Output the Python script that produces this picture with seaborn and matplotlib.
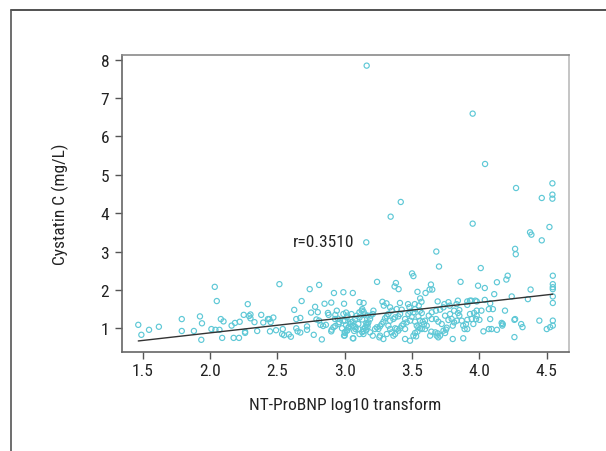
import matplotlib
matplotlib.use("Agg")
import matplotlib.pyplot as plt
from matplotlib import font_manager
from matplotlib.lines import Line2D
import seaborn as sns
import numpy as np
import pandas as pd

# ---------------- data ----------------
# low NT-ProBNP range
x_seg1 = [1.467, 1.49, 1.547, 1.62, 1.79, 1.79, 1.88, 1.925, 1.94, 1.935, 2.035, 2.05, 2.01, 2.04,
          2.07, 2.08, 2.10, 2.09, 2.16, 2.185, 2.22, 2.175, 2.215, 2.25, 2.28, 2.26, 2.26, 2.29]
y_seg1 = [1.09, 0.83, 0.96, 1.04, 1.24, 0.93, 0.93, 1.31, 1.13, 0.70, 2.08, 1.71, 0.98, 0.96,
          0.96, 1.24, 1.18, 0.75, 1.07, 1.14, 1.17, 0.75, 0.75, 1.35, 1.63, 0.91, 0.88, 1.32]

x_seg2 = [2.30, 2.30, 2.33, 2.35, 2.38, 2.395, 2.43, 2.44, 2.45, 2.47, 2.445, 2.49, 2.515, 2.535,
          2.55, 2.54, 2.585, 2.60, 2.625, 2.64, 2.67, 2.64, 2.65, 2.67, 2.68, 2.72, 2.72, 2.74,
          2.75, 2.77, 2.78, 2.80, 2.81, 2.79, 2.81, 2.83, 2.82, 2.84, 2.86, 2.85, 2.875, 2.88,
          2.90, 2.92, 2.93, 2.93, 2.90, 2.95, 2.96, 2.99, 2.995, 3.06, 3.01, 3.00, 3.00, 3.02,
          3.05, 2.99, 3.01, 3.03, 2.98, 3.02]
y_seg2 = [1.36, 1.26, 1.16, 0.93, 1.35, 1.15, 1.24, 1.24, 1.16, 1.28, 0.92, 0.95, 2.15, 0.85,
          0.82, 0.98, 0.84, 0.78, 1.48, 1.24, 1.27, 1.00, 0.92, 0.89, 1.71, 1.05, 0.96, 2.02,
          1.41, 0.83, 1.56, 1.42, 2.13, 1.23, 1.20, 0.71, 1.09, 1.06, 1.09, 1.64, 1.40, 1.35,
          1.67, 1.92, 1.06, 1.35, 0.92, 1.25, 1.16, 1.94, 1.64, 1.92, 1.41, 0.90, 0.81, 1.33,
          1.37, 1.20, 1.08, 1.02, 1.00, 0.95]

x_seg3 = [3.047, 3.06, 3.08, 3.08, 3.07, 3.11, 3.13, 3.14, 3.16, 3.16, 3.17, 3.17, 3.17, 3.13,
          3.14, 3.11, 3.13, 3.15, 3.11, 3.14]
y_seg3 = [1.16, 1.07, 1.03, 0.98, 0.93, 0.85, 0.90, 0.93, 0.95, 1.13, 1.12, 1.33, 1.04, 1.50,
          1.43, 1.28, 1.23, 1.36, 1.68, 1.66]

# dense band, NT-ProBNP 2.9 - 3.9
x_seg4 = [3.851, 3.841, 3.851, 3.832, 3.812, 3.794, 3.802, 3.770, 3.757, 3.752, 3.745, 3.802,
          3.733, 3.708, 3.695, 3.683, 3.634, 3.643, 3.673, 3.690, 3.609, 3.589, 3.596, 3.559,
          3.572, 3.547, 3.559, 3.579, 3.596, 3.522, 3.510, 3.485, 3.473, 3.497, 3.485, 3.522,
          3.535, 3.547, 3.559, 3.572, 3.540, 3.522, 3.510, 3.530, 3.448, 3.485, 3.436, 3.423,
          3.411, 3.398, 3.386, 3.374, 3.374, 3.361, 3.411, 3.398, 3.374, 3.361, 3.324, 3.312,
          3.299, 3.337, 3.287, 3.275, 3.262, 3.250, 3.238, 3.225, 3.262, 3.257, 3.287, 3.213,
          3.208, 3.193, 3.188, 3.176, 3.163, 3.151, 3.139, 3.126, 3.109, 3.089, 3.077, 3.059,
          3.040, 3.027, 3.015, 3.002, 2.995, 3.064, 2.990, 3.015, 3.002, 2.928, 2.916, 2.903]
y_seg4 = [1.476, 1.398, 1.329, 1.198, 1.155, 1.242, 1.068, 1.216, 1.016, 0.964, 0.877, 0.721,
          0.938, 0.808, 0.764, 0.808, 0.808, 0.912, 0.894, 0.868, 1.068, 1.112, 0.981, 1.459,
          1.398, 1.311, 1.198, 1.172, 1.198, 1.502, 1.416, 1.433, 1.372, 1.303, 1.198, 1.172,
          1.068, 1.025, 0.999, 0.981, 0.912, 0.877, 0.808, 0.790, 0.721, 0.677, 1.112, 1.068,
          0.999, 0.938, 0.981, 0.999, 0.851, 0.808, 1.372, 1.311, 1.285, 1.242, 1.372, 1.311,
          1.259, 1.198, 1.172, 1.112, 1.051, 0.981, 1.025, 0.981, 0.808, 0.764, 0.721, 1.459,
          1.372, 1.329, 1.242, 1.155, 1.085, 1.025, 0.981, 1.459, 1.416, 1.329, 1.242, 1.172,
          1.112, 1.025, 0.938, 0.877, 0.808, 0.738, 1.372, 1.285, 1.198, 1.242, 1.025, 0.964]

x_seg5 = [3.733, 3.708, 3.678, 3.646, 3.624, 3.646, 3.678, 3.695, 3.720, 3.745, 3.782, 3.812,
          3.869, 3.943, 3.955, 3.980, 3.930, 3.337, 3.349, 3.386, 3.423, 3.448, 3.460, 3.448,
          3.337, 3.324, 3.349, 3.312, 3.188, 3.208, 3.139, 3.101, 3.101, 2.941, 2.953]
y_seg5 = [1.546, 1.485, 1.459, 1.416, 1.329, 1.242, 1.242, 1.172, 1.112, 1.329, 1.372, 1.459,
          1.198, 1.242, 1.112, 1.329, 1.372, 1.546, 1.459, 1.502, 1.485, 1.242, 1.155, 0.981,
          0.981, 1.068, 0.894, 0.851, 0.894, 0.808, 0.851, 0.981, 1.112, 1.459, 1.112]

# upper scatter and high NT-ProBNP range
x_seg6 = [3.16, 4.265, 4.27, 3.68, 3.70, 4.01, 3.50, 3.51, 3.24, 4.21, 4.20, 4.545, 4.545, 4.545,
          4.545, 3.86, 4.13, 3.99, 4.04, 4.38, 3.38, 3.37, 3.40, 3.64, 3.65, 3.54, 3.60, 3.63,
          4.11, 4.24, 4.36, 4.545, 4.545, 3.28, 3.29, 3.31, 3.41, 3.47, 3.48, 3.56, 3.57, 3.52,
          3.55, 3.69, 3.77, 3.78, 3.74, 3.84, 3.83, 3.91, 3.93, 3.91, 3.94, 3.97, 3.98, 4.04,
          4.08, 4.10, 4.07, 4.19, 4.545, 4.545, 4.525, 4.50, 4.445, 4.265, 4.26, 4.31, 4.32,
          4.26, 4.13, 4.09, 4.07, 4.03, 4.17, 4.17, 4.08, 4.015, 3.98, 3.96, 4.0, 3.975, 3.91,
          3.90, 3.88, 3.89, 3.91, 3.88, 3.06, 4.165, 4.173]
y_seg6 = [3.24, 3.07, 2.93, 3.00, 2.61, 2.57, 2.43, 2.36, 2.21, 2.37, 2.27, 2.37, 2.15, 2.07,
          2.02, 2.21, 2.20, 2.11, 2.05, 2.01, 2.18, 2.09, 2.02, 2.14, 2.01, 1.95, 1.92, 2.01,
          1.89, 1.83, 1.76, 1.83, 1.66, 1.69, 1.59, 1.65, 1.66, 1.63, 1.55, 1.78, 1.69, 1.63,
          1.59, 1.70, 1.68, 1.59, 1.63, 1.72, 1.63, 1.70, 1.72, 1.61, 1.72, 1.72, 1.70, 1.74,
          1.65, 1.50, 1.50, 1.46, 1.20, 1.07, 1.03, 0.98, 1.20, 1.24, 1.22, 1.11, 1.03,
          0.77, 0.96, 0.98, 0.98, 0.92, 1.11, 1.07, 1.24, 1.46, 1.46, 1.40, 1.22, 1.24, 1.22,
          1.11, 1.07, 0.98, 0.98, 0.74, 0.74, 1.14, 1.11]

# outliers
x_seg7 = [3.163, 3.950, 4.042, 4.272, 4.542, 4.542, 4.542, 4.463, 3.341, 3.416, 3.950, 4.376,
          4.386, 4.520, 4.463]
y_seg7 = [7.845, 6.594, 5.282, 4.656, 4.778, 4.483, 4.378, 4.396, 3.909, 4.292, 3.727, 3.501,
          3.440, 3.640, 3.292]

ntprobnp_log10 = x_seg1 + x_seg2 + x_seg3 + x_seg4 + x_seg5 + x_seg6 + x_seg7
cystatin_c = y_seg1 + y_seg2 + y_seg3 + y_seg4 + y_seg5 + y_seg6 + y_seg7

fit_intercept = 0.089
fit_slope = 0.396
r_text = "r=0.3510"

x_ticks = [1.5, 2.0, 2.5, 3.0, 3.5, 4.0, 4.5]
y_ticks = [1, 2, 3, 4, 5, 6, 7, 8]
x_label = "NT-ProBNP log10 transform"
y_label = "Cystatin C (mg/L)"

# ---------------- style ----------------
sns.set_theme(style="white")
available = {f.name for f in font_manager.fontManager.ttflist}
family = "DejaVu Sans"
for cand in ["Liberation Sans Narrow", "DejaVu Sans Condensed", "Roboto Condensed",
             "Open Sans Condensed", "Liberation Sans"]:
    if cand in available:
        family = cand
        break
plt.rcParams["font.family"] = [family, "DejaVu Sans"]

txt = "#222222"
pt_color = "#5ec8d6"

df = pd.DataFrame({"x": ntprobnp_log10, "y": cystatin_c})

fig = plt.figure(figsize=(6.06, 4.52), dpi=100)
ax = fig.add_axes([121.7 / 606, (452 - 352.7) / 452, (568.7 - 121.7) / 606, (352.7 - 55.7) / 452])

sns.scatterplot(data=df, x="x", y="y", ax=ax, marker="o", s=14,
                facecolors="none", edgecolor=pt_color, linewidth=0.85, legend=False)

lx = np.array([df["x"].min(), df["x"].max()])
line_df = pd.DataFrame({"x": lx, "y": fit_intercept + fit_slope * lx})
sns.lineplot(data=line_df, x="x", y="y", ax=ax, color="#333333", linewidth=1.0)

ax.text(2.616, 3.25, r_text, ha="left", va="center", fontsize=12.5, color=txt)

ax.set_xlim(1.344, 4.663)
ax.set_ylim(0.39, 8.13)
ax.set_xticks(x_ticks)
ax.set_xticklabels([f"{t:.1f}" for t in x_ticks])
ax.set_yticks(y_ticks)
ax.set_yticklabels([str(t) for t in y_ticks])
ax.tick_params(axis="both", which="major", direction="out", length=5, width=1,
               color="#555555", labelsize=12.5, labelcolor=txt, bottom=True, left=True)
ax.tick_params(axis="x", pad=3)
ax.tick_params(axis="y", pad=4)

ax.set_xlabel(x_label, fontsize=12.5, color=txt)
ax.set_ylabel(y_label, fontsize=12.5, color=txt)
ax.xaxis.set_label_coords(0.5, -0.148)
ax.xaxis.label.set_va("top")
ax.yaxis.set_label_coords(-0.118, 0.5)

ax.spines["left"].set_color("#666666")
ax.spines["bottom"].set_color("#666666")
ax.spines["top"].set_color("#8a8a8a")
ax.spines["right"].set_color("#bbbbbb")
for s in ax.spines.values():
    s.set_linewidth(1.2)
    s.set_visible(True)
ax.grid(False)

# outer partial frame
fy = (452 - 10.5) / 452
fx = 11 / 606
fig.add_artist(Line2D([fx, 1.0], [fy, fy], transform=fig.transFigure, color="#333333", lw=1.2))
fig.add_artist(Line2D([fx, fx], [0, fy], transform=fig.transFigure, color="#555555", lw=1.2))

fig.savefig("out.png", dpi=100, facecolor="white")
